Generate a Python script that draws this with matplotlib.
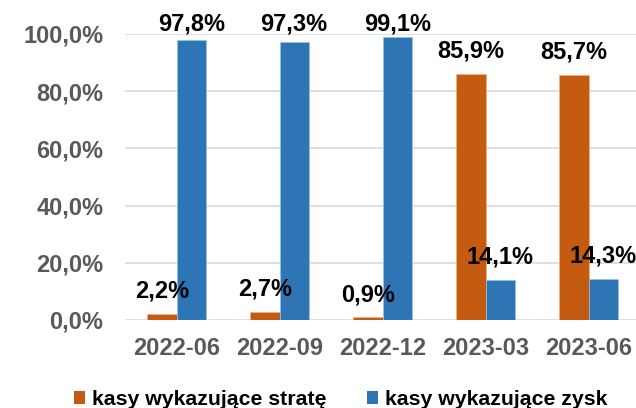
import matplotlib.pyplot as plt
from matplotlib.patches import Patch
import numpy as np

plt.rcParams['font.family'] = ['Liberation Sans', 'DejaVu Sans']
plt.rcParams['font.weight'] = 'bold'

periods = ['2022-06', '2022-09', '2022-12', '2023-03', '2023-06']
loss = [2.2, 2.7, 0.9, 85.9, 85.7]
profit = [97.8, 97.3, 99.1, 14.1, 14.3]
series_names = ['kasy wykazujące stratę', 'kasy wykazujące zysk']

orange = '#C55A11'
blue = '#2E75B6'
gray = '#595959'

fig = plt.figure(figsize=(6.36, 4.08), dpi=100)
ax = fig.add_axes([125 / 636, 1 - 320 / 408, 515 / 636, 286 / 408])

x = np.arange(len(periods))
w = 0.285
ax.bar(x - w / 2, loss, w, color=orange, edgecolor='#F4B183', linewidth=0.5, zorder=3)
ax.bar(x + w / 2, profit, w, color=blue, edgecolor='#9DC3E6', linewidth=0.5, zorder=3)

def put_label(xpos, val):
    ypos = min(val + 8.0, 103.6)
    ax.text(xpos, ypos, f'{val:.1f}%'.replace('.', ','), ha='center', va='center',
            fontsize=17, fontweight='bold', color='black', clip_on=False, zorder=4)

for i in range(len(periods)):
    put_label(x[i] - w / 2, loss[i])
    put_label(x[i] + w / 2, profit[i])

ax.set_xlim(-0.5, len(periods) - 0.5)
ax.set_ylim(0, 100)
yt = np.arange(0, 101, 20)
ax.set_yticks(yt)
ax.set_yticklabels([f'{v:.1f}%'.replace('.', ',') for v in yt])
ax.set_xticks(x)
ax.set_xticklabels(periods)
ax.tick_params(axis='y', length=0, pad=15.5, labelsize=17, labelcolor=gray)
ax.tick_params(axis='x', length=0, pad=12.5, labelsize=17, labelcolor=gray)
for lab in ax.get_xticklabels() + ax.get_yticklabels():
    lab.set_fontweight('bold')

ax.grid(axis='y', color='#D9D9D9', linewidth=1.2, zorder=0)
for s in ax.spines.values():
    s.set_visible(False)

handles = [Patch(facecolor=orange), Patch(facecolor=blue)]
fig.legend(handles, series_names, loc='lower center', bbox_to_anchor=(0.535, -0.05),
           ncol=2, frameon=False, handlelength=0.55, handleheight=0.55,
           handletextpad=0.3, columnspacing=1.9,
           prop={'weight': 'bold', 'size': 15.3})

fig.savefig('out.png', dpi=100)
